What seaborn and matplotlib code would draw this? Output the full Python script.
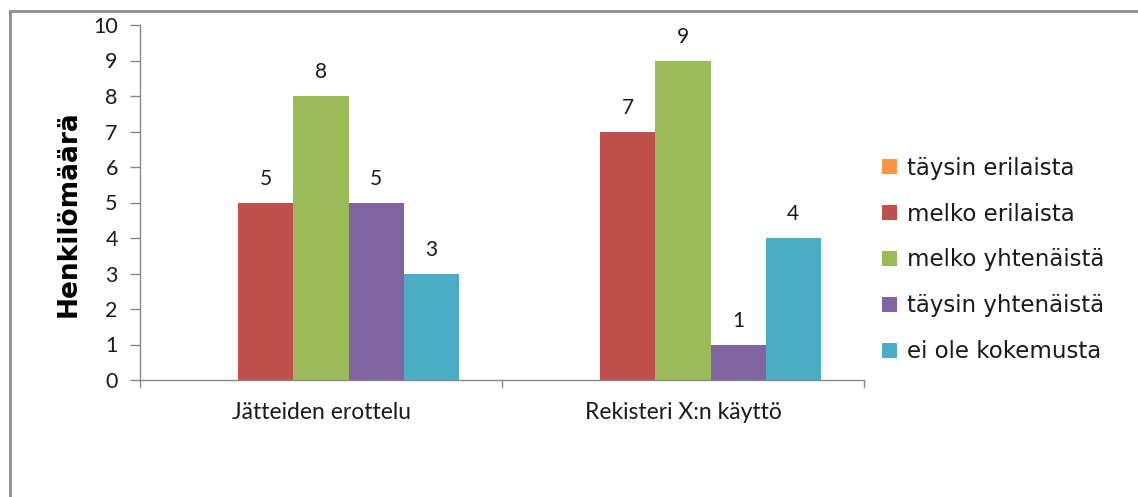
import matplotlib
matplotlib.use("Agg")
import matplotlib.pyplot as plt
from matplotlib.lines import Line2D
from matplotlib.patches import Patch
import seaborn as sns
import pandas as pd

categories = ["Jätteiden erottelu", "Rekisteri X:n käyttö"]
series = ["täysin erilaista", "melko erilaista", "melko yhtenäistä",
          "täysin yhtenäistä", "ei ole kokemusta"]
values = {
    "täysin erilaista": [0, 0],
    "melko erilaista": [5, 7],
    "melko yhtenäistä": [8, 9],
    "täysin yhtenäistä": [5, 1],
    "ei ole kokemusta": [3, 4],
}
colors = ["#F79646", "#C0504D", "#9BBB59", "#8064A2", "#4BACC6"]
y_ticks = list(range(0, 11))

rows = []
for s in series:
    for c, v in zip(categories, values[s]):
        rows.append({"kategoria": c, "sarja": s, "arvo": v})
df = pd.DataFrame(rows)

sns.set_theme(style="white")
plt.rcParams["font.family"] = ["Lato", "DejaVu Sans"]

fig = plt.figure(figsize=(11.38, 4.97), dpi=100)
ax = fig.add_axes([140 / 1138, 1 - 380 / 497, 724 / 1138, 355 / 497])

sns.barplot(data=df, x="kategoria", y="arvo", hue="sarja", order=categories,
            hue_order=series, palette=colors, width=0.76, gap=0,
            saturation=1, linewidth=0, ax=ax, legend=False)

for cont in ax.containers:
    labels = [f"{int(b.get_height())}" if b.get_height() > 0 else "" for b in cont]
    ax.bar_label(cont, labels=labels, padding=10, fontsize=15, color="#1a1a1a")

ax.set_ylim(0, 10)
ax.set_xlim(-0.5, 1.5)
ax.set_yticks(y_ticks)
ax.set_yticklabels([str(t) for t in y_ticks], fontsize=15.5, color="#1a1a1a")
ax.set_xticks([0, 1])
ax.set_xticklabels(categories, fontsize=16.5, color="#1a1a1a")
ax.tick_params(axis="x", length=0, pad=16)
ax.tick_params(axis="y", length=7, width=1, color="#888888", pad=9, left=True)
for x in [-0.5, 0.5, 1.5]:
    ax.plot([x, x], [0, -0.2], color="#888888", lw=1, clip_on=False)
ax.set_xlabel("")
ax.set_ylabel("Henkilömäärä", fontsize=19, fontweight="bold",
              family=["DejaVu Sans"], color="#000000")
ax.yaxis.set_label_coords(-0.080, 0.47)
for side in ["top", "right"]:
    ax.spines[side].set_visible(False)
for side in ["left", "bottom"]:
    ax.spines[side].set_color("#888888")
    ax.spines[side].set_linewidth(1)

handles = [Patch(facecolor=c, edgecolor="none") for c in colors]
fig.legend(handles, series, loc="upper left",
           bbox_to_anchor=(861 / 1138, 1 - 136 / 497), frameon=False,
           prop={"family": ["DejaVu Sans"], "size": 16.5},
           handlelength=0.65, handleheight=0.65, handletextpad=0.45,
           labelspacing=1.0, labelcolor="#1a1a1a")

# outer chart frame
fig.add_artist(Line2D([10 / 1138, 10 / 1138], [0, 1 - 11 / 497],
                      transform=fig.transFigure, color="#8c8c8c", lw=2))
fig.add_artist(Line2D([10 / 1138, 1], [1 - 11 / 497, 1 - 11 / 497],
                      transform=fig.transFigure, color="#8c8c8c", lw=2))

fig.savefig("out.png", dpi=100, facecolor="white")
